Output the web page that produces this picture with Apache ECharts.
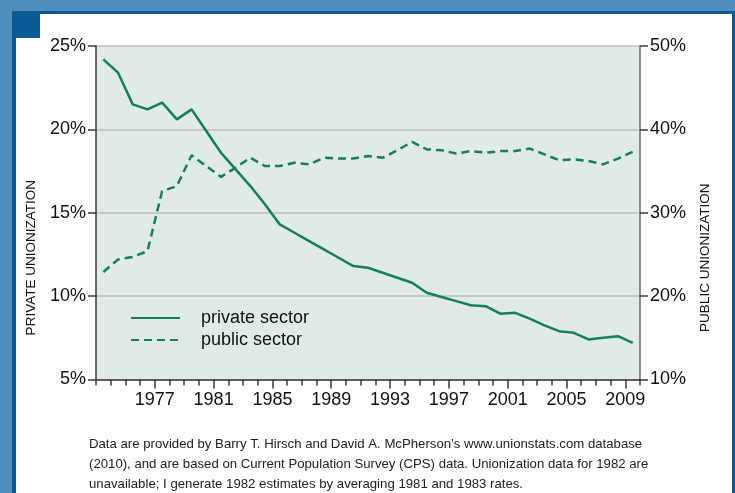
<!DOCTYPE html>
<html>
<head>
<meta charset="utf-8">
<script src="https://cdn.jsdelivr.net/npm/echarts@6/dist/echarts.min.js"></script>
<style>
    body { margin: 0; background: #4f8ebd; }
    #edge { position: absolute; left: 12px; top: 11px; width: 723px; height: 482px; background: #0b5a93; }
    #panel { position: absolute; left: 16px; top: 14px; width: 716px; height: 479px; background: #fff; }
    #corner { position: absolute; left: 12px; top: 11px; width: 28px; height: 27px; background: #0b5a93; }
    #chart { position: absolute; left: 0; top: 0; width: 735px; height: 493px; }
</style>
</head>
<body>
<div id="edge"></div>
<div id="panel"></div>
<div id="corner"></div>
<div id="chart"></div>
<script>
// union membership rates, 1973-2009
var years = [1973, 1974, 1975, 1976, 1977, 1978, 1979, 1980, 1981, 1982,
             1983, 1984, 1985, 1986, 1987, 1988, 1989, 1990, 1991, 1992,
             1993, 1994, 1995, 1996, 1997, 1998, 1999, 2000, 2001, 2002,
             2003, 2004, 2005, 2006, 2007, 2008, 2009];

var privateRate = [24.2, 23.4, 21.5, 21.2, 21.6, 20.6, 21.2, 19.9, 18.6, 17.6,
                   16.6, 15.5, 14.3, 13.8, 13.3, 12.8, 12.3, 11.8, 11.7, 11.4,
                   11.1, 10.8, 10.2, 9.95, 9.7, 9.45, 9.4, 8.95, 9.0, 8.65,
                   8.25, 7.9, 7.8, 7.4, 7.5, 7.6, 7.2];

var publicRate = [22.9, 24.4, 24.7, 25.4, 32.6, 33.2, 36.9, 35.6, 34.3, 35.4,
                  36.6, 35.6, 35.6, 36.0, 35.8, 36.6, 36.5, 36.5, 36.8, 36.6,
                  37.5, 38.5, 37.6, 37.5, 37.1, 37.4, 37.2, 37.4, 37.4, 37.7,
                  37.0, 36.3, 36.4, 36.2, 35.8, 36.5, 37.3];

var labelYears = [1977, 1981, 1985, 1989, 1993, 1997, 2001, 2005, 2009];
var axisYears = years.concat([2010]).map(String);

var footnote = "Data are provided by Barry T. Hirsch and David A. McPherson\u2019s www.unionstats.com database\n" +
    "(2010), and are based on Current Population Survey (CPS) data. Unionization data for 1982 are\n" +
    "unavailable; I generate 1982 estimates by averaging 1981 and 1983 rates.";

var green = '#15814f';
var axisColor = '#3a3a3a';
var font = '"Liberation Sans", Arial, sans-serif';

function pairs(vals) {
    // each yearly value sits in the middle of its year
    return years.map(function (y, i) { return [y + 0.5, vals[i]]; });
}

function isLabelYear(idx, val) {
    return labelYears.indexOf(+val) >= 0;
}

var chart = echarts.init(document.getElementById('chart'));

var option = {
    animation: false,
    textStyle: { fontFamily: font },
    grid: {
        left: 96, right: 95, top: 46, bottom: 113.5,
        show: true, backgroundColor: '#e0ebe3', borderWidth: 0
    },
    legend: {
        orient: 'vertical',
        left: 125, top: 304,
        itemWidth: 49, itemHeight: 18, itemGap: 4,
        itemStyle: { opacity: 0 },
        textStyle: { fontSize: 18, color: '#111', fontFamily: font, padding: [0, 0, 0, 16] },
        data: ['private sector', 'public sector']
    },
    xAxis: [
        {
            type: 'value', min: 1973, max: 2010, interval: 1,
            axisLine: { lineStyle: { color: axisColor, width: 1.5 } },
            axisTick: { length: 6, lineStyle: { color: axisColor, width: 1.5 } },
            axisLabel: { show: false },
            splitLine: { show: false }
        },
        {
            type: 'category', position: 'bottom', boundaryGap: false,
            data: axisYears,
            axisLine: { show: false },
            axisTick: { length: 9, interval: isLabelYear, lineStyle: { color: axisColor, width: 1.5 } },
            axisLabel: { interval: isLabelYear, fontSize: 18, color: '#111', margin: 12 },
            splitLine: { show: false }
        }
    ],
    yAxis: [
        {
            type: 'value', min: 5, max: 25, interval: 5, position: 'left',
            name: 'PRIVATE UNIONIZATION', nameLocation: 'middle', nameRotate: 90, nameGap: 58,
            nameTextStyle: { fontSize: 13.5, color: '#111', padding: [0, 90, 0, 0] },
            axisLine: { show: true, lineStyle: { color: axisColor, width: 1.5 } },
            axisTick: { show: true, length: 8, lineStyle: { color: axisColor, width: 1.5 } },
            axisLabel: { formatter: '{value}%', fontSize: 18, color: '#111', margin: 10 },
            splitLine: { lineStyle: { color: '#bcbcbc', width: 1.5 } }
        },
        {
            type: 'value', min: 10, max: 50, interval: 10, position: 'right',
            name: 'PUBLIC UNIONIZATION', nameLocation: 'middle', nameRotate: 90, nameGap: 58,
            nameTextStyle: { fontSize: 13.5, color: '#111', padding: [0, 90, 0, 0] },
            axisLine: { show: true, lineStyle: { color: '#6a6a6a', width: 1.5 } },
            axisTick: { show: true, length: 8, lineStyle: { color: axisColor, width: 1.5 } },
            axisLabel: { formatter: '{value}%', fontSize: 18, color: '#111', margin: 10 },
            splitLine: { show: false }
        }
    ],
    series: [
        {
            name: 'private sector', type: 'line',
            xAxisIndex: 0, yAxisIndex: 0,
            symbol: 'none', color: green,
            lineStyle: { color: green, width: 2.5 },
            data: pairs(privateRate)
        },
        {
            name: 'public sector', type: 'line',
            xAxisIndex: 0, yAxisIndex: 1,
            symbol: 'none', color: green,
            lineStyle: { color: green, width: 2.5, type: [8, 5] },
            data: pairs(publicRate)
        }
    ],
    graphic: [
        {
            type: 'text', left: 89, top: 434,
            style: { text: footnote, fontSize: 13.2, lineHeight: 20, fill: '#222', fontFamily: font }
        }
    ]
};

chart.setOption(option);

window.onresize = function () {
    chart.resize();
};
</script>
</body>
</html>
